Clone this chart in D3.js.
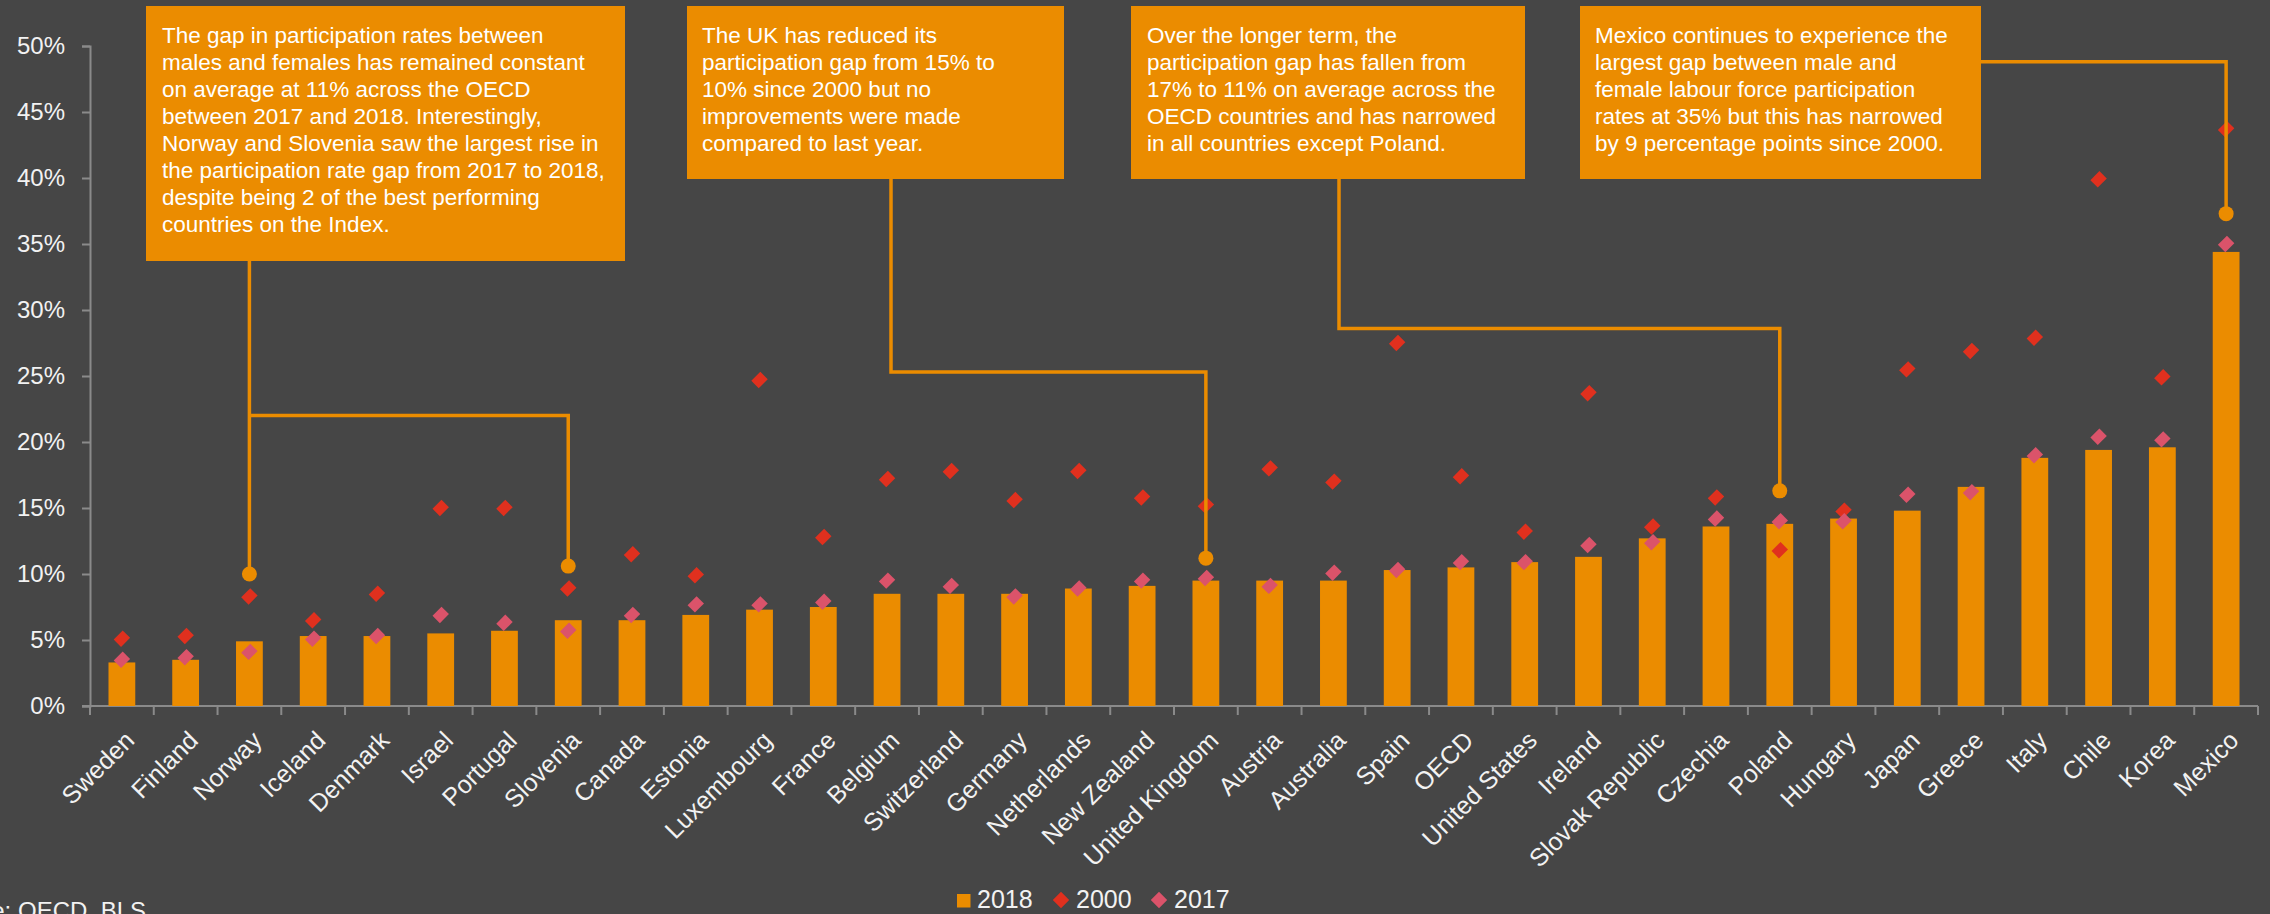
<!DOCTYPE html>
<meta charset="utf-8">

<!-- Load d3.js -->
<script src="https://d3js.org/d3.v7.min.js"></script>

<style>
  body { margin: 0; background: #464646; }
  svg text { font-family: "Liberation Sans", Arial, sans-serif; }
</style>

<!-- Create a div where the graph will take place -->
<div id="my_dataviz"></div>

<script>
// data: gender gap in labour force participation (percentage points)
const countries = ["Sweden", "Finland", "Norway", "Iceland", "Denmark", "Israel", "Portugal", "Slovenia",
  "Canada", "Estonia", "Luxembourg", "France", "Belgium", "Switzerland", "Germany", "Netherlands",
  "New Zealand", "United Kingdom", "Austria", "Australia", "Spain", "OECD", "United States", "Ireland",
  "Slovak Republic", "Czechia", "Poland", "Hungary", "Japan", "Greece", "Italy", "Chile", "Korea", "Mexico"];
const gap2018 = [3.3, 3.5, 4.9, 5.3, 5.3, 5.5, 5.7, 6.5, 6.5, 6.9, 7.3, 7.5, 8.5, 8.5, 8.5, 8.9,
  9.1, 9.5, 9.5, 9.5, 10.3, 10.5, 10.9, 11.3, 12.7, 13.6, 13.8, 14.2, 14.8, 16.6, 18.8, 19.4, 19.6, 34.4];
const gap2000 = [5.1, 5.3, 8.3, 6.5, 8.5, 15.0, 15.0, 8.9, 11.5, 9.9, 24.7, 12.8, 17.2, 17.8, 15.6, 17.8,
  15.8, 15.2, 18.0, 17.0, 27.5, 17.4, 13.2, 23.7, 13.6, 15.8, 11.8, 14.8, 25.5, 26.9, 27.9, 39.9, 24.9, 43.7];
const gap2017 = [3.5, 3.7, 4.1, 5.1, 5.3, 6.9, 6.3, 5.7, 6.9, 7.7, 7.7, 7.9, 9.5, 9.1, 8.3, 8.9,
  9.5, 9.7, 9.1, 10.1, 10.3, 10.9, 10.9, 12.2, 12.4, 14.2, 14.0, 14.0, 16.0, 16.2, 19.0, 20.4, 20.2, 35.0];
const yTicks = [0, 5, 10, 15, 20, 25, 30, 35, 40, 45, 50];
const seriesNames = ["2018", "2000", "2017"];
const sourceText = "Source: OECD, BLS";

// call-out texts
const note1 = ["The gap in participation rates between", "males and females has remained constant",
  "on average at 11% across the OECD", "between 2017 and 2018. Interestingly,",
  "Norway and Slovenia saw the largest rise in", "the participation rate gap from 2017 to 2018,",
  "despite being 2 of the best performing", "countries on the Index."];
const note2 = ["The UK has reduced its", "participation gap from 15% to", "10% since 2000 but no",
  "improvements were made", "compared to last year."];
const note3 = ["Over the longer term, the", "participation gap has fallen from",
  "17% to 11% on average across the", "OECD countries and has narrowed", "in all countries except Poland."];
const note4 = ["Mexico continues to experience the", "largest gap between male and",
  "female labour force participation", "rates at 35% but this has narrowed", "by 9 percentage points since 2000."];

const width = 2270, height = 914;
const orange = "#eb8c00", red = "#e0301e", pink = "#db536a", grey = "#8a8a8a", txt = "#f2f2f2";

const svg = d3.select("#my_dataviz")
  .append("svg")
  .attr("width", width)
  .attr("height", height)
  .style("display", "block");

svg.append("rect").attr("width", width).attr("height", height).attr("fill", "#464646");

const x = d3.scaleBand()
  .domain(countries)
  .range([90, 2258])
  .paddingInner(0.58)
  .paddingOuter(0.29);
const xc = d => x(d) + x.bandwidth() / 2;

const y = d3.scaleLinear()
  .domain([0, 50])
  .range([706, 46]);

// Y axis
const yAxis = svg.append("g")
  .attr("transform", "translate(90,0)")
  .call(d3.axisLeft(y).tickValues(yTicks).tickSize(8).tickPadding(17).tickFormat(d => d + "%"));
yAxis.selectAll("path, line").attr("stroke", grey).attr("stroke-width", 2);
yAxis.selectAll("text").attr("fill", txt).attr("font-size", 24)
  .style("font-family", "'Liberation Sans', Arial, sans-serif");

// X axis (ticks on the band boundaries)
const xAxis = svg.append("g").attr("transform", "translate(0,706)");
xAxis.append("line").attr("x1", 82).attr("x2", 2258).attr("stroke", grey).attr("stroke-width", 2);
const step = x.step();
xAxis.selectAll("line.tick")
  .data(d3.range(countries.length + 1))
  .join("line")
  .attr("class", "tick")
  .attr("x1", i => 90 + i * step).attr("x2", i => 90 + i * step)
  .attr("y1", 0).attr("y2", 9)
  .attr("stroke", grey).attr("stroke-width", 2);
xAxis.selectAll("text")
  .data(countries)
  .join("text")
  .attr("transform", d => `translate(${xc(d) + 14},36) rotate(-45)`)
  .attr("text-anchor", "end")
  .attr("fill", txt)
  .attr("font-size", 25)
  .text(d => d);

// bars 2018
svg.append("g")
  .selectAll("rect")
  .data(countries)
  .join("rect")
  .attr("x", d => x(d))
  .attr("width", x.bandwidth())
  .attr("y", (d, i) => y(gap2018[i]))
  .attr("height", (d, i) => y(0) - y(gap2018[i]))
  .attr("fill", orange);

// diamonds
const diamond = d3.symbol().type(d3.symbolSquare).size(135);
function diamonds(values, color) {
  svg.append("g")
    .selectAll("path")
    .data(countries)
    .join("path")
    .attr("d", diamond)
    .attr("transform", (d, i) => `translate(${xc(d)},${y(values[i])}) rotate(45) scale(0.9,1.1)`)
    .attr("fill", color);
}
diamonds(gap2000, red);
diamonds(gap2017, pink);

// call-out leaders
const line = d3.line();
const leaders = [
  [[xc("Norway"), 261], [xc("Norway"), y(10)]],
  [[xc("Norway"), y(22)], [xc("Slovenia"), y(22)], [xc("Slovenia"), y(10.6)]],
  [[891, 179], [891, y(25.3)], [xc("United Kingdom"), y(25.3)], [xc("United Kingdom"), y(11.2)]],
  [[1339, 179], [1339, y(28.6)], [xc("Poland"), y(28.6)], [xc("Poland"), y(16.3)]],
  [[1981, y(48.8)], [xc("Mexico"), y(48.8)], [xc("Mexico"), y(37.3)]]
];
svg.append("g")
  .selectAll("path")
  .data(leaders)
  .join("path")
  .attr("d", d => line(d))
  .attr("fill", "none")
  .attr("stroke", orange)
  .attr("stroke-width", 3.5);

const dots = [["Norway", 10], ["Slovenia", 10.6], ["United Kingdom", 11.2], ["Poland", 16.3], ["Mexico", 37.3]];
svg.append("g")
  .selectAll("circle")
  .data(dots)
  .join("circle")
  .attr("cx", d => xc(d[0]))
  .attr("cy", d => y(d[1]))
  .attr("r", 7.5)
  .attr("fill", orange);

// call-out boxes
const boxes = [
  {x: 146, w: 479, h: 255, lines: note1, pad: 16},
  {x: 687, w: 377, h: 173, lines: note2, pad: 15},
  {x: 1131, w: 394, h: 173, lines: note3, pad: 16},
  {x: 1580, w: 401, h: 173, lines: note4, pad: 15}
];
boxes.forEach(b => {
  const g = svg.append("g").attr("transform", `translate(${b.x},6)`);
  g.append("rect").attr("width", b.w).attr("height", b.h).attr("fill", orange);
  g.selectAll("text")
    .data(b.lines)
    .join("text")
    .attr("x", b.pad)
    .attr("y", (d, i) => 37 + i * 27)
    .attr("fill", "#ffffff")
    .attr("font-size", 22.5)
    .text(d => d);
});

// legend
const legend = svg.append("g").attr("transform", "translate(957,0)");
legend.append("rect").attr("x", 0).attr("y", 894).attr("width", 13.5).attr("height", 13.5).attr("fill", orange);
legend.append("path").attr("d", diamond).attr("transform", "translate(104,900) rotate(45)").attr("fill", red);
legend.append("path").attr("d", diamond).attr("transform", "translate(202,900) rotate(45)").attr("fill", pink);
legend.selectAll("text")
  .data(seriesNames)
  .join("text")
  .attr("x", (d, i) => [20, 119, 217][i])
  .attr("y", 908)
  .attr("fill", txt)
  .attr("font-size", 25)
  .text(d => d);

// source
svg.append("text")
  .attr("x", 146)
  .attr("y", 919)
  .attr("text-anchor", "end")
  .attr("fill", txt)
  .attr("font-size", 24)
  .text(sourceText);
</script>
